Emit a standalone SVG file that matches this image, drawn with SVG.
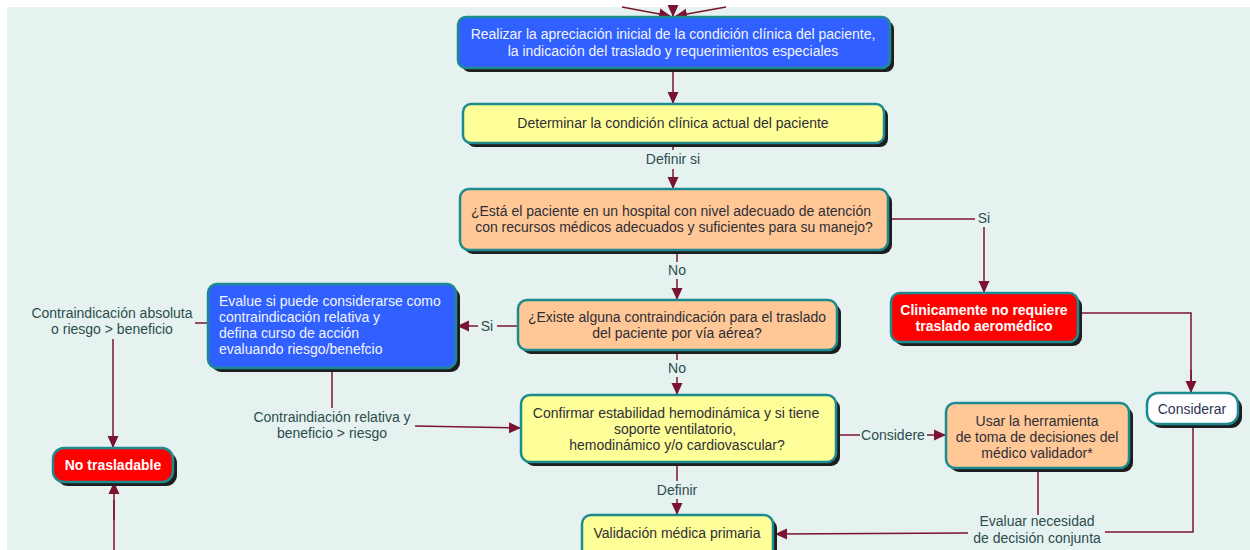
<svg xmlns="http://www.w3.org/2000/svg" width="1250" height="550" viewBox="0 0 1250 550">
<defs>
<marker id="ah" markerUnits="userSpaceOnUse" markerWidth="12" markerHeight="12" viewBox="0 0 12 12" refX="11" refY="6" orient="auto">
<path d="M0,0.5 L12,6 L0,11.5 Z" fill="#7B1430"/>
</marker>
<style>
.bg{fill:#E6F2F0}
.sh{fill:#1E1E1E}
.nb{stroke:#1C8A8E;stroke-width:2.5}
.blue{fill:#3060FF}
.yel{fill:#FFFF99}
.pch{fill:#FFC896}
.red{fill:#FF0000}
.wht{fill:#FFFFFF}
.t{font-family:"Liberation Sans",Arial,sans-serif;font-size:14px;text-anchor:middle}
.tl{font-family:"Liberation Sans",Arial,sans-serif;font-size:14px;text-anchor:start;fill:#F2F4FF}
.tw{fill:#F2F4FF}
.tb{fill:#FFFFFF;font-weight:bold}
.td{fill:#2E2E38}
.lbl{font-family:"Liberation Sans",Arial,sans-serif;font-size:14px;text-anchor:middle;fill:#2C4D4D}
.c{fill:none;stroke:#7B1430;stroke-width:1.5}
.ca{fill:none;stroke:#7B1430;stroke-width:1.5;marker-end:url(#ah)}
</style>
</defs>
<rect x="0" y="0" width="1250" height="550" fill="#FFFFFF"/>
<rect class="bg" x="7" y="7" width="1243" height="543"/>

<g id="connectors">
<path class="ca" d="M622,7 L670,16"/>
<path class="ca" d="M726,7 L676,16"/>
<path class="ca" d="M673,8 L673,16"/>
<path class="ca" d="M673,70 L673,103"/>
<path class="c" d="M673,145 L673,150"/>
<path class="ca" d="M673,169 L673,188"/>
<text class="lbl" x="673" y="164">Definir si</text>
<path class="c" d="M890,219 L975,219"/>
<text class="lbl" x="984" y="223">Si</text>
<path class="ca" d="M984,227 L984,292"/>
<path class="c" d="M677,252 L677,262"/>
<text class="lbl" x="677" y="275">No</text>
<path class="ca" d="M677,279 L677,299"/>
<path class="c" d="M1080,313 L1191,313 L1191,392"/>
<path class="ca" d="M1191,370 L1191,392"/>
<path class="c" d="M517,326 L497,326"/>
<text class="lbl" x="487" y="331">Si</text>
<path class="ca" d="M478,326 L458,326"/>
<path class="c" d="M677,352 L677,360"/>
<text class="lbl" x="677" y="373">No</text>
<path class="ca" d="M677,377 L677,394"/>
<path class="c" d="M207,323 L195,323"/>
<text class="lbl" x="112" y="318">Contraindicación absoluta</text>
<text class="lbl" x="112" y="334">o riesgo &gt; beneficio</text>
<path class="ca" d="M113,339 L113,447"/>
<path class="c" d="M114,550 L114,500"/>
<path class="ca" d="M114,520 L114,483"/>
<path class="c" d="M332,370 L332,408"/>
<text class="lbl" x="332" y="422">Contraindiación relativa y</text>
<text class="lbl" x="332" y="438">beneficio &gt; riesgo</text>
<path class="ca" d="M415,426 L520,428"/>
<path class="c" d="M838,435 L860,435"/>
<text class="lbl" x="893" y="440">Considere</text>
<path class="ca" d="M927,435 L945,435"/>
<path class="c" d="M677,464 L677,481"/>
<text class="lbl" x="677" y="495">Definir</text>
<path class="ca" d="M677,499 L677,514"/>
<path class="c" d="M1038,470 L1038,515"/>
<path class="c" d="M1193,426 L1193,532 L1105,532"/>
<text class="lbl" x="1037" y="526">Evaluar necesidad</text>
<text class="lbl" x="1037" y="543">de decisión conjunta</text>
<path class="ca" d="M968,533 L776,534"/>
</g>

<g id="n-apreciacion">
<rect class="sh" x="462" y="21" width="432" height="51" rx="8"/>
<rect class="blue nb" x="458" y="17" width="432" height="51" rx="8"/>
<text class="t tw" x="673" y="39">Realizar la apreciación inicial de la condición clínica del paciente,</text>
<text class="t tw" x="673" y="56">la indicación del traslado y requerimientos especiales</text>
</g>

<g id="n-determinar">
<rect class="sh" x="467" y="108" width="421" height="39" rx="8"/>
<rect class="yel nb" x="463" y="104" width="421" height="39" rx="8"/>
<text class="t td" x="673" y="128">Determinar la condición clínica actual del paciente</text>
</g>

<g id="n-hospital">
<rect class="sh" x="464" y="193" width="428" height="61" rx="9"/>
<rect class="pch nb" x="460" y="189" width="428" height="61" rx="9"/>
<text class="t td" x="671" y="216">¿Está el paciente en un hospital con nivel adecuado de atención</text>
<text class="t td" x="674" y="232">con recursos médicos adecuados y suficientes para su manejo?</text>
</g>

<g id="n-contraindicacion">
<rect class="sh" x="522" y="304" width="319" height="50" rx="9"/>
<rect class="pch nb" x="518" y="300" width="319" height="50" rx="9"/>
<text class="t td" x="677" y="322">¿Existe alguna contraindicación para el traslado</text>
<text class="t td" x="677" y="338">del paciente por vía aérea?</text>
</g>

<g id="n-evalue">
<rect class="sh" x="212" y="288" width="248" height="84" rx="9"/>
<rect class="blue nb" x="208" y="284" width="248" height="84" rx="9"/>
<text class="tl" x="219" y="306">Evalue si puede considerarse como</text>
<text class="tl" x="219" y="322">contraindicación relativa y</text>
<text class="tl" x="219" y="338">defina curso de acción</text>
<text class="tl" x="219" y="354">evaluando riesgo/benefcio</text>
</g>

<g id="n-clinicamente">
<rect class="sh" x="895" y="297" width="187" height="49" rx="9"/>
<rect class="red nb" x="891" y="293" width="187" height="49" rx="9"/>
<text class="t tb" x="984" y="315">Clinicamente no requiere</text>
<text class="t tb" x="984" y="331">traslado aeromédico</text>
</g>

<g id="n-considerar">
<rect class="sh" x="1151" y="397" width="91" height="31" rx="11"/>
<rect class="wht nb" x="1147" y="393" width="91" height="31" rx="11"/>
<text class="t" fill="#2E3452" x="1192" y="414">Considerar</text>
</g>

<g id="n-confirmar">
<rect class="sh" x="525" y="399" width="315" height="67" rx="9"/>
<rect class="yel nb" x="521" y="395" width="315" height="67" rx="9"/>
<text class="t td" x="676" y="418">Confirmar estabilidad hemodinámica y si tiene</text>
<text class="t td" x="675" y="434">soporte ventilatorio,</text>
<text class="t td" x="677" y="450">hemodinámico y/o cardiovascular?</text>
</g>

<g id="n-herramienta">
<rect class="sh" x="950" y="407" width="183" height="65" rx="9"/>
<rect class="pch nb" x="946" y="403" width="183" height="65" rx="9"/>
<text class="t td" x="1037" y="426">Usar la herramienta</text>
<text class="t td" x="1037" y="442">de toma de decisiones del</text>
<text class="t td" x="1037" y="458">médico validador*</text>
</g>

<g id="n-notrasladable">
<rect class="sh" x="57" y="452" width="120" height="34" rx="11"/>
<rect class="red nb" x="53" y="448" width="120" height="34" rx="11"/>
<text class="t tb" x="113" y="470">No trasladable</text>
</g>

<g id="n-validacion">
<rect class="sh" x="586" y="519" width="191" height="50" rx="9"/>
<rect class="yel nb" x="582" y="515" width="191" height="50" rx="9"/>
<text class="t td" x="677" y="538">Validación médica primaria</text>
</g>
</svg>
